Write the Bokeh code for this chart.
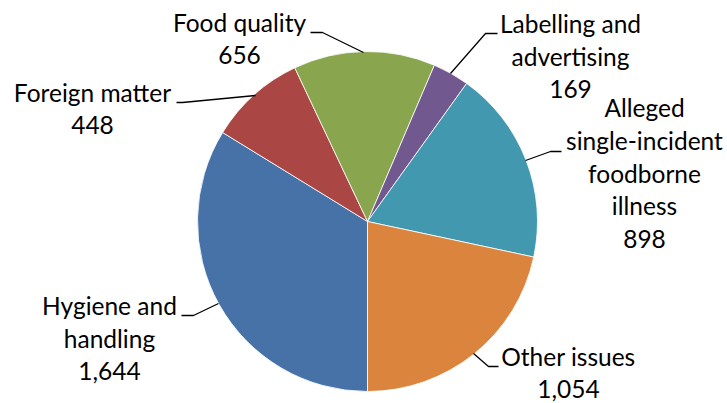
import math
from bokeh.plotting import figure
from bokeh.models import Range1d, ColumnDataSource
from bokeh.core.properties import value
from bokeh.embed import file_html
from bokeh.resources import INLINE

# ---- data (clockwise from 6 o'clock) ----
categories = ["Hygiene and handling", "Foreign matter", "Food quality",
              "Labelling and advertising", "Alleged single-incident foodborne illness",
              "Other issues"]
label_lines = ["Hygiene and\nhandling", "Foreign matter", "Food quality",
               "Labelling and\nadvertising", "Alleged\nsingle-incident\nfoodborne\nillness",
               "Other issues"]
values = [1644, 448, 656, 169, 898, 1054]
colors = ["#4672A8", "#AA4643", "#89A54E", "#71588F", "#4198AF", "#DB843D"]

# ---- layout (reference pixel coords) ----
CX, CY, R = 367, 221, 170
label_anchor = [(109, 315), (92, 102), (239, 32), (570, 33), (644, 117), (568, 366)]
leaders = [
    [(181, 315), (193, 315), (218, 303)],
    [(176, 102), (182, 102), (255, 95)],
    [(310, 32), (322, 32), (363, 52)],
    [(497, 33), (485, 33), (450, 73)],
    [(561, 151), (550, 151), (525, 160)],
    [(498, 366), (488, 366), (473, 353)],
]
LINE_H = 32.75
TEXT_DY = -10  # renderer baseline correction

W, H = 727, 403
p = figure(width=W, height=H, output_backend="svg", toolbar_location=None,
           x_range=Range1d(0, W), y_range=Range1d(-H, 0),
           min_border=0, outline_line_color=None)
p.axis.visible = False
p.grid.visible = False
p.background_fill_color = "white"
p.border_fill_color = "white"

total = sum(values)
starts, ends = [], []
theta = math.pi
for v in values:
    t1 = theta + v / total * 2 * math.pi
    starts.append(math.pi / 2 - theta)
    ends.append(math.pi / 2 - t1)
    theta = t1

src = ColumnDataSource(dict(start=starts, end=ends, color=colors, cat=categories))
p.wedge(x=CX, y=-CY, radius=R, start_angle="start", end_angle="end",
        direction="clock", fill_color="color", line_color="white",
        line_width=1, line_alpha=0.8, source=src)

for pts in leaders:
    p.line([q[0] for q in pts], [-q[1] for q in pts], line_color="black", line_width=1.3)

tx, ty, tt = [], [], []
for (ax, ay), lab, v in zip(label_anchor, label_lines, values):
    lines = lab.split("\n") + ["{:,}".format(v)]
    for i, ln in enumerate(lines):
        tx.append(ax)
        ty.append(-(ay + i * LINE_H + TEXT_DY))
        tt.append(ln)
p.text(x=tx, y=ty, text=tt, text_font=value("Lato"), text_font_size="24.5px",
       text_align="center", text_baseline="alphabetic", text_color="black")

open("out.html", "w").write(file_html(p, INLINE))
